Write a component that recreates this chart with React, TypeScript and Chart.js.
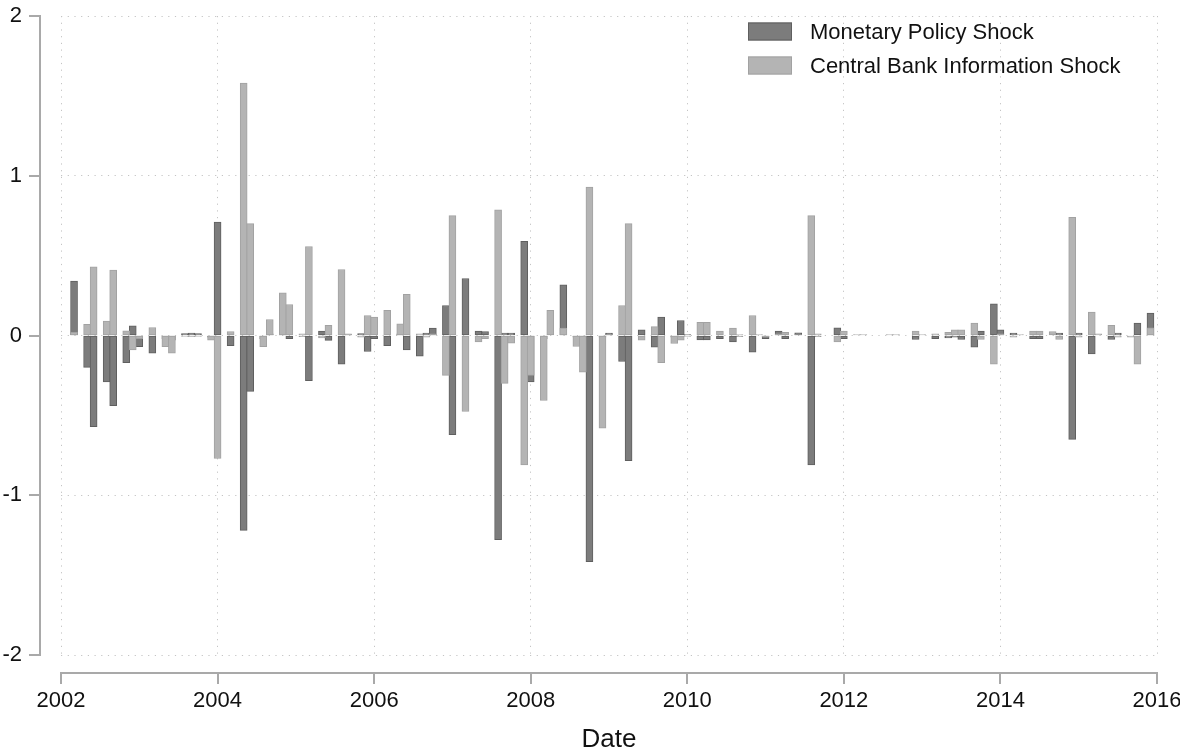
import React, { useEffect, useRef } from 'react';
import { Chart, registerables } from 'chart.js';

Chart.register(...registerables);

// ---- data (monthly aggregates) ----
const months = [
  '2002-03', '2002-05', '2002-06', '2002-08', '2002-09', '2002-11', '2002-12',
  '2003-01', '2003-03', '2003-05', '2003-06', '2003-08', '2003-09', '2003-10', '2003-12',
  '2004-01', '2004-03', '2004-05', '2004-06', '2004-08', '2004-09', '2004-11', '2004-12',
  '2005-02', '2005-03', '2005-05', '2005-06', '2005-08', '2005-09', '2005-11', '2005-12',
  '2006-01', '2006-03', '2006-05', '2006-06', '2006-08', '2006-09', '2006-10', '2006-12',
  '2007-01', '2007-03', '2007-05', '2007-06', '2007-08', '2007-09', '2007-10', '2007-12',
  '2008-01', '2008-03', '2008-04', '2008-06', '2008-08', '2008-09', '2008-10', '2008-12',
  '2009-01', '2009-03', '2009-04', '2009-06', '2009-08', '2009-09', '2009-11', '2009-12',
  '2010-01', '2010-03', '2010-04', '2010-06', '2010-08', '2010-09', '2010-11', '2010-12',
  '2011-01', '2011-03', '2011-04', '2011-06', '2011-08', '2011-09', '2011-12',
  '2012-01', '2012-03', '2012-04', '2012-08', '2012-09', '2012-12',
  '2013-01', '2013-03', '2013-05', '2013-06', '2013-07', '2013-09', '2013-10', '2013-12',
  '2014-01', '2014-03', '2014-04', '2014-06', '2014-07', '2014-09', '2014-10', '2014-12',
  '2015-01', '2015-03', '2015-04', '2015-06', '2015-07', '2015-09', '2015-10', '2015-12',
];

const monetaryPolicyShock: (number | null)[] = [
  0.34, -0.2, -0.57, -0.29, -0.44, -0.17, 0.06,
  -0.07, -0.11, -0.02, -0.03, 0.012, 0.015, 0.012, -0.01,
  0.71, -0.063, -1.22, -0.35, -0.02, 0.01, 0.01, -0.02,
  -0.005, -0.282, 0.027, -0.031, -0.18, 0.005, 0.012, -0.1,
  -0.02, -0.063, 0.01, -0.09, -0.13, 0.015, 0.046, 0.188,
  -0.62, 0.357, 0.027, 0.025, -1.278, 0.015, 0.015, 0.589,
  -0.29, -0.02, null, 0.317, -0.01, -0.01, -1.415, -0.01,
  0.015, -0.163, -0.783, 0.035, -0.073, 0.115, -0.01, 0.094,
  0.005, -0.027, -0.027, -0.02, -0.04, -0.005, -0.104, null,
  -0.02, 0.027, -0.02, 0.017, -0.81, -0.005, 0.048,
  -0.02, null, null, null, null, -0.025,
  null, -0.02, -0.015, -0.01, -0.025, -0.073, 0.027, 0.198,
  0.035, 0.015, null, -0.02, -0.02, null, 0.015, -0.65,
  0.015, -0.115, null, -0.025, 0.015, null, 0.077, 0.14,
];

const centralBankInformationShock: (number | null)[] = [
  0.02, 0.07, 0.43, 0.09, 0.41, 0.03, -0.09,
  -0.02, 0.05, -0.07, -0.11, -0.005, -0.008, -0.006, -0.03,
  -0.77, 0.025, 1.58, 0.7, -0.07, 0.1, 0.267, 0.194,
  0.01, 0.557, -0.015, 0.063, 0.413, 0.01, -0.01, 0.125,
  0.115, 0.157, 0.073, 0.257, 0.01, -0.01, 0.01, -0.25,
  0.75, -0.476, -0.04, -0.02, 0.787, -0.3, -0.048, -0.81,
  -0.25, -0.407, 0.157, 0.046, -0.069, -0.23, 0.929, -0.58,
  0.005, 0.188, 0.7, -0.03, 0.056, -0.17, -0.05, -0.03,
  -0.005, 0.083, 0.083, 0.027, 0.046, 0.005, 0.125, 0.005,
  -0.01, 0.01, 0.02, 0.005, 0.75, 0.01, -0.04,
  0.027, 0.005, 0.005, 0.005, 0.005, 0.027,
  0.005, 0.01, 0.02, 0.035, 0.035, 0.077, -0.025, -0.18,
  0.01, -0.01, 0.005, 0.027, 0.027, 0.025, -0.025, 0.74,
  -0.01, 0.146, 0.01, 0.063, -0.01, -0.01, -0.18, 0.048,
];

const seriesLabels = ['Monetary Policy Shock', 'Central Bank Information Shock'];
const xTickValues = [2002, 2004, 2006, 2008, 2010, 2012, 2014, 2016];
const yTickValues = [-2, -1, 0, 1, 2];
const xAxisTitle = 'Date';

// ---- styling ----
const FONT = "'Liberation Sans', Arial, Helvetica, sans-serif";
const DARK_FILL = '#7c7c7c';
const DARK_BORDER = '#5f5f5f';
const LIGHT_FILL = '#b4b4b4';
const LIGHT_BORDER = '#a2a2a2';
const GRID = '#c4c4c4';
const AXIS = '#a9a9a9';
const TEXT = '#111111';

function toYear(m: string): number {
  const [y, mo] = m.split('-').map(Number);
  return y + (mo - 1) / 12;
}

const offsetAxesPlugin = {
  id: 'offsetAxes',
  afterDraw(chart: any) {
    const { ctx } = chart;
    const xs = chart.scales.x;
    const ys = chart.scales.y;
    const xMin = xs.getPixelForValue(xTickValues[0]);
    const xMax = xs.getPixelForValue(xTickValues[xTickValues.length - 1]);
    const yTop = ys.getPixelForValue(yTickValues[yTickValues.length - 1]);
    const yBot = ys.getPixelForValue(yTickValues[0]);
    const axisX = Math.round(xMin) - 21;
    const axisY = Math.round(yBot) + 18;
    const tick = 11;
    ctx.save();
    ctx.strokeStyle = AXIS;
    ctx.lineWidth = 2;
    ctx.lineCap = 'butt';
    ctx.beginPath();
    ctx.moveTo(axisX, Math.round(yTop) - 1);
    ctx.lineTo(axisX, Math.round(yBot) + 1);
    yTickValues.forEach((v) => {
      const py = Math.round(ys.getPixelForValue(v));
      ctx.moveTo(axisX - tick, py);
      ctx.lineTo(axisX + 1, py);
    });
    ctx.moveTo(Math.round(xMin) - 1, axisY);
    ctx.lineTo(Math.round(xMax) + 1, axisY);
    xTickValues.forEach((v) => {
      const px = Math.round(xs.getPixelForValue(v));
      ctx.moveTo(px, axisY - 1);
      ctx.lineTo(px, axisY + tick);
    });
    ctx.stroke();
    ctx.restore();
  },
};

const insetLegendPlugin = {
  id: 'insetLegend',
  afterDatasetsDraw(chart: any) {
    const { ctx, chartArea } = chart;
    const left = chartArea.right - 409;
    const rowCenters = [chartArea.top + 15.5, chartArea.top + 49.5];
    const order = [0, 1];
    ctx.save();
    ctx.font = `22px ${FONT}`;
    ctx.textBaseline = 'middle';
    ctx.textAlign = 'left';
    order.forEach((di, row) => {
      const ds = chart.data.datasets[di];
      const cy = rowCenters[row];
      ctx.fillStyle = ds.backgroundColor;
      ctx.fillRect(left, cy - 9, 44, 18);
      ctx.strokeStyle = ds.borderColor;
      ctx.lineWidth = 1;
      ctx.strokeRect(left + 0.5, cy - 8.5, 43, 17);
      ctx.fillStyle = TEXT;
      ctx.fillText(ds.label, left + 62, cy + 1);
    });
    ctx.restore();
  },
};

export default function App() {
  const canvasRef = useRef<HTMLCanvasElement | null>(null);

  useEffect(() => {
    if (!canvasRef.current) return;
    const xs = months.map(toYear);
    const chart = new Chart(canvasRef.current, {
      type: 'bar',
      data: {
        datasets: [
          {
            label: seriesLabels[0],
            data: xs.map((x, i) => ({ x, y: monetaryPolicyShock[i] })) as any,
            backgroundColor: DARK_FILL,
            borderColor: DARK_BORDER,
            borderWidth: 1,
            borderSkipped: false,
            barThickness: 7,
            grouped: false,
            order: 1,
          },
          {
            label: seriesLabels[1],
            data: xs.map((x, i) => ({ x, y: centralBankInformationShock[i] })) as any,
            backgroundColor: LIGHT_FILL,
            borderColor: LIGHT_BORDER,
            borderWidth: 1,
            borderSkipped: false,
            barThickness: 7,
            grouped: false,
            order: 0,
          },
        ],
      },
      options: {
        animation: false,
        responsive: true,
        maintainAspectRatio: false,
        devicePixelRatio: 1,
        layout: { padding: { left: 0, right: 23, top: 16, bottom: 0 } },
        plugins: {
          legend: { display: false },
          tooltip: { enabled: false },
        },
        scales: {
          x: {
            type: 'linear',
            min: xTickValues[0],
            max: xTickValues[xTickValues.length - 1],
            offset: false,
            grid: {
              offset: false,
              color: GRID,
              lineWidth: 1,
              drawTicks: false,
            },
            border: { display: false, dash: [1.2, 5.5] },
            afterBuildTicks: (scale: any) => {
              scale.ticks = xTickValues.map((v) => ({ value: v }));
            },
            afterFit: (scale: any) => {
              scale.height = 96;
              scale.paddingLeft = 0;
              scale.paddingRight = 0;
            },
            ticks: {
              padding: 33,
              color: TEXT,
              font: { family: FONT, size: 22 },
              maxRotation: 0,
              autoSkip: false,
              callback: (v: any) => String(v),
            },
            title: {
              display: true,
              text: xAxisTitle,
              color: TEXT,
              padding: 0,
              font: { family: FONT, size: 26, lineHeight: 0.85 },
            },
          },
          y: {
            type: 'linear',
            min: yTickValues[0],
            max: yTickValues[yTickValues.length - 1],
            grid: {
              color: GRID,
              lineWidth: 1,
              drawTicks: false,
            },
            border: { display: false, dash: [1.2, 5.5] },
            afterBuildTicks: (scale: any) => {
              scale.ticks = yTickValues.map((v) => ({ value: v }));
            },
            afterFit: (scale: any) => {
              scale.width = 61;
              scale.paddingTop = 0;
              scale.paddingBottom = 0;
            },
            ticks: {
              padding: 39,
              color: TEXT,
              font: { family: FONT, size: 22 },
              callback: (v: any) => String(v),
            },
          },
        },
      },
      plugins: [offsetAxesPlugin, insetLegendPlugin],
    });
    return () => chart.destroy();
  }, []);

  return (
    <div style={{ position: 'absolute', left: 0, top: 0, width: 1180, height: 751, background: '#fff' }}>
      <canvas ref={canvasRef} />
    </div>
  );
}
